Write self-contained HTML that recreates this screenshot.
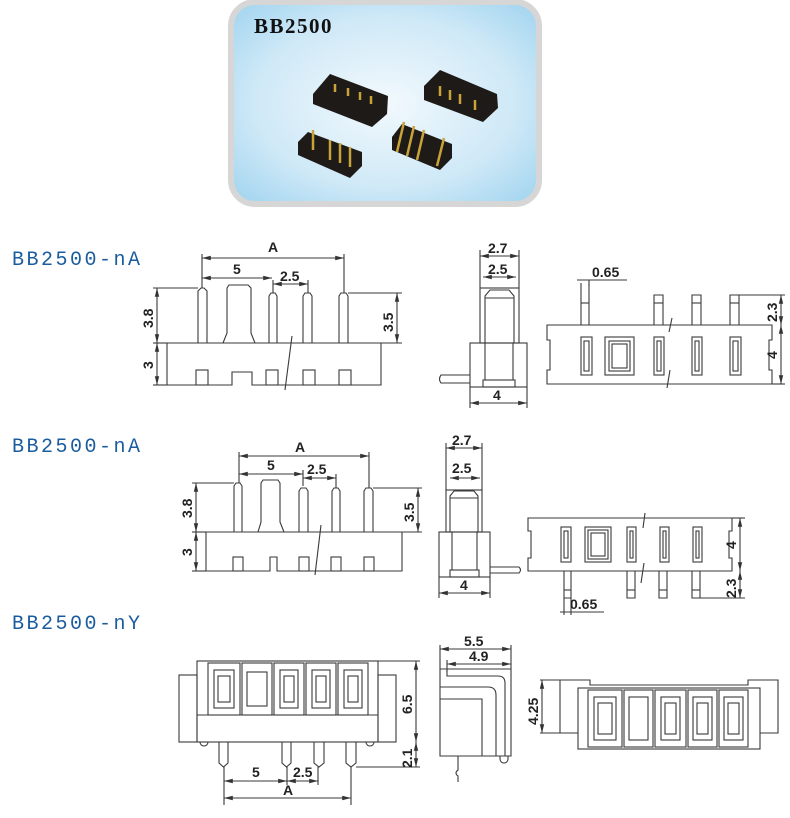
<!DOCTYPE html>
<html><head><meta charset="utf-8"><style>
html,body{margin:0;padding:0;background:#fff;width:790px;height:818px;overflow:hidden}
svg{display:block}
.l{fill:none;stroke:#3a3a3a;stroke-width:1.1}
.t{font-family:"Liberation Sans",sans-serif;font-size:14px;fill:#222;font-weight:bold}
.h{font-family:"Liberation Mono","DejaVu Sans Mono",monospace;font-size:20px;fill:#1b5c9e;letter-spacing:2.5px}
</style></head><body>
<svg width="790" height="818" viewBox="0 0 790 818" xmlns="http://www.w3.org/2000/svg">
<defs>
<radialGradient id="bg" cx="0.5" cy="0.5" r="0.7">
<stop offset="0" stop-color="#f2f9fd"/><stop offset="0.6" stop-color="#cfe9f7"/><stop offset="1" stop-color="#9fd3ef"/>
</radialGradient>
<marker id="a" markerWidth="8" markerHeight="6" refX="8" refY="3" orient="auto-start-reverse"><path d="M0,1 L8,3 L0,5" fill="#333"/></marker>
</defs>
<rect x="231" y="2" width="308" height="202" rx="24" fill="url(#bg)" stroke="#d6d6d6" stroke-width="6"/>
<text x="254" y="33" font-family="Liberation Serif,serif" font-weight="bold" font-size="21" letter-spacing="1.5" fill="#111">BB2500</text>
<g fill="#1e1a17">
<polygon points="313,94 330,74 388,96 387,114 372,127 313,104"/>
<polygon points="424,86 440,70 497,94 498,108 483,122 424,100"/>
<polygon points="298,142 308,132 362,152 362,166 350,178 298,155"/>
<polygon points="392,137 402,124 452,144 452,158 440,170 392,150"/>
</g>
<g stroke="#c9a33a" stroke-width="2.5">
<line x1="335" y1="84" x2="335" y2="92"/><line x1="348" y1="88" x2="348" y2="96"/><line x1="360" y1="92" x2="360" y2="100"/><line x1="371" y1="96" x2="371" y2="104"/>
<line x1="440" y1="86" x2="440" y2="96"/><line x1="450" y1="90" x2="450" y2="100"/><line x1="460" y1="94" x2="460" y2="104"/><line x1="475" y1="100" x2="475" y2="110"/>
<line x1="313" y1="130" x2="313" y2="150"/><line x1="330" y1="140" x2="330" y2="160"/><line x1="340" y1="143" x2="340" y2="163"/><line x1="350" y1="147" x2="350" y2="167"/>
<line x1="404" y1="122" x2="397" y2="152"/><line x1="414" y1="126" x2="407" y2="156"/><line x1="424" y1="130" x2="417" y2="160"/><line x1="444" y1="138" x2="437" y2="166"/>
</g>

<text x="12" y="265" class="h">BB2500-nA</text>
<text x="12" y="452" class="h">BB2500-nA</text>
<text x="12" y="629" class="h">BB2500-nY</text>

<g class="l">
<line x1="202" y1="254" x2="202" y2="288"/><line x1="344" y1="254" x2="344" y2="293"/>
<line x1="202" y1="258" x2="344" y2="258" marker-start="url(#a)" marker-end="url(#a)"/>
<line x1="202" y1="278" x2="272" y2="278" marker-start="url(#a)" marker-end="url(#a)"/>
<line x1="273" y1="284" x2="308" y2="284" marker-start="url(#a)" marker-end="url(#a)"/>
<line x1="273" y1="280" x2="273" y2="293"/><line x1="308" y1="280" x2="308" y2="293"/>
<path d="M198,343 V291 L201,288 H204 L207,291 V343"/>
<path d="M223,343 L227,333 V288 L229,285 H248 L251,288 V333 L255,343"/>
<path d="M269,343 V296 L271,293 H275 L277,296 V343"/>
<path d="M303,343 V296 L305,293 H310 L312,296 V343"/>
<path d="M339,343 V296 L341,293 H346 L348,296 V343"/>
<path d="M167,343 H381 V385 H252 V372 H232 V385 H167 Z"/>
<rect x="196" y="370" width="12" height="15"/><rect x="266" y="370" width="12" height="15"/><rect x="303" y="370" width="12" height="15"/><rect x="339" y="370" width="12" height="15"/>
<line x1="292" y1="336" x2="285" y2="390"/>
<line x1="153" y1="288" x2="198" y2="288"/><line x1="153" y1="343" x2="167" y2="343"/><line x1="153" y1="385" x2="167" y2="385"/>
<line x1="157" y1="288" x2="157" y2="343" marker-start="url(#a)" marker-end="url(#a)"/>
<line x1="157" y1="343" x2="157" y2="385" marker-start="url(#a)" marker-end="url(#a)"/>
<line x1="348" y1="293" x2="402" y2="293"/><line x1="381" y1="343" x2="402" y2="343"/>
<line x1="397" y1="293" x2="397" y2="343" marker-start="url(#a)" marker-end="url(#a)"/>
</g>
<text x="268" y="252" class="t" font-weight="normal">A</text>
<text x="233" y="274" class="t">5</text>
<text x="280" y="281" class="t">2.5</text>
<text class="t" transform="translate(153,328) rotate(-90)">3.8</text>
<text class="t" transform="translate(153,369) rotate(-90)">3</text>
<text class="t" transform="translate(393,332) rotate(-90)">3.5</text>

<g class="l">
<line x1="480" y1="250" x2="480" y2="288"/><line x1="519" y1="250" x2="519" y2="288"/>
<line x1="480" y1="256" x2="519" y2="256" marker-start="url(#a)" marker-end="url(#a)"/>
<line x1="483" y1="277" x2="516" y2="277" marker-start="url(#a)" marker-end="url(#a)"/>
<rect x="480" y="288" width="39" height="55"/>
<path d="M485,343 V296 L490,290 H509 L514,296 V343"/>
<line x1="485" y1="298" x2="514" y2="298"/>
<rect x="470" y="343" width="57" height="44"/>
<line x1="485" y1="343" x2="485" y2="380"/><line x1="513" y1="343" x2="513" y2="380"/>
<rect x="483" y="380" width="32" height="7"/>
<path d="M470,375 H441 Q438,379 441,383 H470"/>
<line x1="470" y1="387" x2="470" y2="408"/><line x1="527" y1="387" x2="527" y2="408"/>
<line x1="470" y1="403" x2="527" y2="403" marker-start="url(#a)" marker-end="url(#a)"/>
</g>
<text x="488" y="253" class="t">2.7</text>
<text x="488" y="274" class="t">2.5</text>
<text x="493" y="400" class="t">4</text>

<g class="l">
<path d="M547,325 H772 V340 H769 V370 H772 V384 H547 V370 H550 V340 H547 Z"/>
<rect x="581" y="337" width="11" height="38"/><rect x="584" y="341" width="5" height="30"/>
<rect x="605" y="337" width="29" height="38"/><rect x="609" y="341" width="21" height="30"/><rect x="612" y="344" width="15" height="24"/>
<rect x="654" y="337" width="10" height="38"/><rect x="692" y="337" width="10" height="38"/><rect x="730" y="337" width="11" height="38"/>
<rect x="657" y="341" width="4" height="30"/><rect x="695" y="341" width="4" height="30"/><rect x="733" y="341" width="5" height="30"/>
<path d="M581,325 V283 M589,325 V283"/><line x1="581" y1="303" x2="589" y2="303"/>
<path d="M654,325 V295 H663 V325 M692,325 V295 H701 V325 M730,325 V295 H739 V325"/>
<line x1="654" y1="303" x2="663" y2="303"/><line x1="692" y1="303" x2="701" y2="303"/><line x1="730" y1="303" x2="739" y2="303"/>
<line x1="577" y1="280" x2="627" y2="280"/><line x1="589" y1="280" x2="589" y2="286"/>
<line x1="672" y1="318" x2="669" y2="332"/><line x1="670" y1="370" x2="667" y2="388"/>
<line x1="739" y1="295" x2="785" y2="295"/><line x1="772" y1="384" x2="785" y2="384"/>
<line x1="781" y1="295" x2="781" y2="325" marker-start="url(#a)" marker-end="url(#a)"/>
<line x1="781" y1="325" x2="781" y2="384" marker-start="url(#a)" marker-end="url(#a)"/>
</g>
<text x="592" y="277" class="t">0.65</text>
<text class="t" transform="translate(777,322) rotate(-90)">2.3</text>
<text class="t" transform="translate(777,359) rotate(-90)">4</text>

<g class="l">
<line x1="239" y1="452" x2="239" y2="483"/><line x1="369" y1="452" x2="369" y2="488"/>
<line x1="239" y1="456" x2="369" y2="456" marker-start="url(#a)" marker-end="url(#a)"/>
<line x1="239" y1="474" x2="303" y2="474" marker-start="url(#a)" marker-end="url(#a)"/>
<line x1="303" y1="478" x2="336" y2="478" marker-start="url(#a)" marker-end="url(#a)"/>
<line x1="303" y1="470" x2="303" y2="486"/><line x1="336" y1="474" x2="336" y2="488"/>
<path d="M234,532 V486 L236,483 H240 L242,486 V532"/>
<path d="M258,532 L261,522 V483 L263,480 H278 L280,483 V522 L284,532"/>
<path d="M299,532 V491 L301,488 H306 L308,491 V532"/>
<path d="M332,532 V491 L334,488 H338 L340,491 V532"/>
<path d="M364,532 V491 L366,488 H371 L373,491 V532"/>
<path d="M206,532 H402 V571 H277 V557 H270 V571 H206 Z"/>
<rect x="233" y="557" width="10" height="14"/><rect x="299" y="557" width="10" height="14"/><rect x="331" y="557" width="10" height="14"/><rect x="364" y="557" width="10" height="14"/>
<line x1="321" y1="525" x2="315" y2="575"/>
<line x1="192" y1="483" x2="234" y2="483"/><line x1="192" y1="532" x2="206" y2="532"/><line x1="192" y1="571" x2="206" y2="571"/>
<line x1="196" y1="483" x2="196" y2="532" marker-start="url(#a)" marker-end="url(#a)"/>
<line x1="196" y1="532" x2="196" y2="571" marker-start="url(#a)" marker-end="url(#a)"/>
<line x1="373" y1="488" x2="422" y2="488"/><line x1="402" y1="532" x2="422" y2="532"/>
<line x1="418" y1="488" x2="418" y2="532" marker-start="url(#a)" marker-end="url(#a)"/>
</g>
<text x="295" y="452" class="t" font-weight="normal">A</text>
<text x="267" y="470" class="t">5</text>
<text x="307" y="474" class="t">2.5</text>
<text class="t" transform="translate(192,518) rotate(-90)">3.8</text>
<text class="t" transform="translate(192,556) rotate(-90)">3</text>
<text class="t" transform="translate(414,522) rotate(-90)">3.5</text>

<g class="l">
<line x1="446" y1="443" x2="446" y2="490"/><line x1="482" y1="443" x2="482" y2="490"/>
<line x1="446" y1="448" x2="482" y2="448" marker-start="url(#a)" marker-end="url(#a)"/>
<line x1="450" y1="478" x2="480" y2="478" marker-start="url(#a)" marker-end="url(#a)"/>
<rect x="446" y="490" width="36" height="42"/>
<path d="M450,532 V496 L454,491 H474 L478,496 V532"/>
<line x1="450" y1="498" x2="478" y2="498"/>
<rect x="439" y="532" width="51" height="45"/>
<line x1="452" y1="532" x2="452" y2="570"/><line x1="477" y1="532" x2="477" y2="570"/>
<rect x="450" y="570" width="29" height="7"/>
<path d="M490,567 H519 Q522,570 519,573 H490"/>
<line x1="439" y1="577" x2="439" y2="598"/><line x1="490" y1="577" x2="490" y2="598"/>
<line x1="439" y1="593" x2="490" y2="593" marker-start="url(#a)" marker-end="url(#a)"/>
</g>
<text x="452" y="445" class="t">2.7</text>
<text x="452" y="473" class="t">2.5</text>
<text x="460" y="590" class="t">4</text>

<g class="l">
<path d="M528,518 H732 V531 H729 V558 H732 V571 H528 V558 H531 V531 H528 Z"/>
<rect x="561" y="527" width="10" height="35"/><rect x="564" y="531" width="4" height="27"/>
<rect x="585" y="527" width="26" height="35"/><rect x="588" y="530" width="20" height="29"/><rect x="591" y="533" width="14" height="23"/>
<rect x="627" y="527" width="9" height="35"/><rect x="660" y="527" width="9" height="35"/><rect x="693" y="527" width="9" height="35"/>
<rect x="630" y="531" width="3" height="27"/><rect x="663" y="531" width="3" height="27"/><rect x="696" y="531" width="3" height="27"/>
<path d="M564,571 V598 H571 V571 M627,571 V598 H635 V571 M659,571 V598 H667 V571 M692,571 V598 H700 V571"/>
<line x1="564" y1="590" x2="571" y2="590"/><line x1="627" y1="590" x2="635" y2="590"/><line x1="659" y1="590" x2="667" y2="590"/><line x1="692" y1="590" x2="700" y2="590"/>
<line x1="645" y1="513" x2="643" y2="528"/><line x1="644" y1="563" x2="641" y2="583"/>
<line x1="560" y1="612" x2="604" y2="612"/><line x1="564" y1="598" x2="564" y2="615"/><line x1="571" y1="598" x2="571" y2="615"/>
<line x1="732" y1="518" x2="745" y2="518"/><line x1="700" y1="598" x2="745" y2="598"/>
<line x1="740" y1="518" x2="740" y2="571" marker-start="url(#a)" marker-end="url(#a)"/>
<line x1="740" y1="571" x2="740" y2="598" marker-start="url(#a)" marker-end="url(#a)"/>
</g>
<text x="570" y="609" class="t">0.65</text>
<text class="t" transform="translate(736,549) rotate(-90)">4</text>
<text class="t" transform="translate(736,598) rotate(-90)">2.3</text>

<g class="l">
<rect x="179" y="675" width="18" height="67"/><rect x="378" y="675" width="18" height="67"/>
<rect x="197" y="661" width="181" height="81"/>
<line x1="197" y1="715" x2="378" y2="715"/>
<g>
<rect x="208" y="663" width="32" height="52"/><rect x="214" y="670" width="20" height="38"/><rect x="218" y="676" width="12" height="26"/>
<rect x="242" y="663" width="30" height="52"/><rect x="247" y="672" width="20" height="34"/>
<rect x="274" y="663" width="30" height="52"/><rect x="280" y="670" width="18" height="38"/><rect x="284" y="676" width="10" height="26"/>
<rect x="306" y="663" width="30" height="52"/><rect x="312" y="670" width="18" height="38"/><rect x="316" y="676" width="10" height="26"/>
<rect x="338" y="663" width="30" height="52"/><rect x="344" y="670" width="18" height="38"/><rect x="348" y="676" width="10" height="26"/>
</g>
<path d="M200,742 A4,4 0 0 0 208,742 M366,742 A4,4 0 0 0 374,742"/>
<path d="M219,742 V763 L223.5,767 L228,763 V742 M282,742 V763 L286.5,767 L291,763 V742 M314,742 V763 L319,767 L324,763 V742 M346,742 V763 L351,767 L356,763 V742"/>
<line x1="378" y1="661" x2="420" y2="661"/><line x1="356" y1="767" x2="420" y2="767"/>
<line x1="416" y1="661" x2="416" y2="742" marker-start="url(#a)" marker-end="url(#a)"/>
<line x1="416" y1="742" x2="416" y2="767" marker-start="url(#a)" marker-end="url(#a)"/>
<line x1="224" y1="767" x2="224" y2="805"/><line x1="287" y1="767" x2="287" y2="785"/><line x1="318" y1="767" x2="318" y2="785"/><line x1="351" y1="767" x2="351" y2="805"/>
<line x1="224" y1="781" x2="287" y2="781" marker-start="url(#a)" marker-end="url(#a)"/>
<line x1="287" y1="781" x2="318" y2="781" marker-start="url(#a)" marker-end="url(#a)"/>
<line x1="224" y1="798" x2="351" y2="798" marker-start="url(#a)" marker-end="url(#a)"/>
</g>
<text x="252" y="777" class="t">5</text>
<text x="293" y="777" class="t">2.5</text>
<text x="283" y="795" class="t" font-weight="normal">A</text>
<text class="t" transform="translate(412,714) rotate(-90)">6.5</text>
<text class="t" transform="translate(412,768) rotate(-90)">2.1</text>

<g class="l">
<line x1="440" y1="645" x2="440" y2="669"/><line x1="511" y1="645" x2="511" y2="669"/><line x1="447" y1="660" x2="447" y2="672"/>
<line x1="440" y1="649" x2="511" y2="649" marker-start="url(#a)" marker-end="url(#a)"/>
<line x1="447" y1="664" x2="511" y2="664" marker-start="url(#a)" marker-end="url(#a)"/>
<path d="M440,669 H511 V756 H440 Z"/>
<path d="M447,669 V676 H498 Q505,676 505,683 V756"/>
<path d="M440,687 H488 Q496,687 496,695 V756"/>
<path d="M440,699 H482 V756"/>
<path d="M458,756 V770 Q454,773 458,776 V782"/>
<path d="M500,756 V759 A4,4 0 0 0 508,759 V756"/>
</g>
<text x="464" y="646" class="t">5.5</text>
<text x="469" y="661" class="t">4.9</text>

<g class="l">
<path d="M540,680 H590 V685 H748 V680 H778 V733 H760 M578,733 H540 Z"/>
<line x1="560" y1="680" x2="560" y2="733"/>
<rect x="578" y="688" width="182" height="61"/>
<g>
<rect x="588" y="690" width="34" height="57"/><rect x="594" y="697" width="22" height="43"/><rect x="598" y="703" width="14" height="31"/>
<rect x="624" y="690" width="29" height="57"/><rect x="629" y="697" width="19" height="43"/>
<rect x="655" y="690" width="31" height="57"/><rect x="661" y="697" width="19" height="43"/><rect x="665" y="703" width="11" height="31"/>
<rect x="688" y="690" width="29" height="57"/><rect x="693" y="697" width="19" height="43"/><rect x="697" y="703" width="11" height="31"/>
<rect x="719" y="690" width="29" height="57"/><rect x="724" y="697" width="19" height="43"/><rect x="728" y="703" width="11" height="31"/>
</g>
<line x1="542" y1="680" x2="542" y2="733" marker-start="url(#a)" marker-end="url(#a)"/>
</g>
<text class="t" transform="translate(538,725) rotate(-90)">4.25</text>
</svg>
</body></html>
